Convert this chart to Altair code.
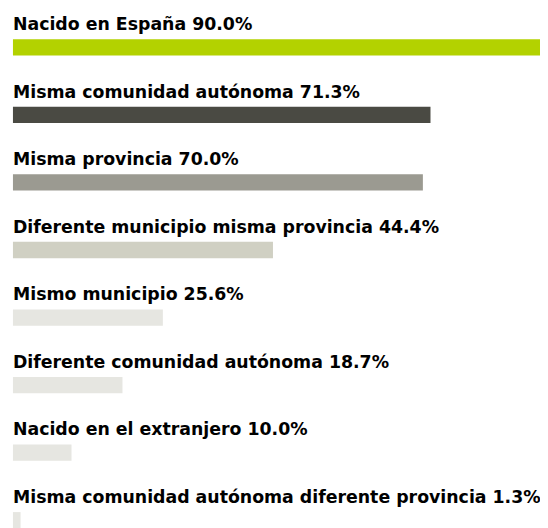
import altair as alt
import pandas as pd

categories = [
    "Nacido en España",
    "Misma comunidad autónoma",
    "Misma provincia",
    "Diferente municipio misma provincia",
    "Mismo municipio",
    "Diferente comunidad autónoma",
    "Nacido en el extranjero",
    "Misma comunidad autónoma diferente provincia",
]
values = [90.0, 71.3, 70.0, 44.4, 25.6, 18.7, 10.0, 1.3]
colors = ["#b3d200", "#4a4a43", "#9b9a91", "#d0d0c3", "#e6e6e1", "#e6e6e1", "#e6e6e1", "#e6e6e1"]

df = pd.DataFrame({
    "cat": categories,
    "val": values,
})
df["label"] = [f"{c} {v:.1f}%" for c, v in zip(categories, values)]

y_enc = alt.Y("cat:N", sort=categories, axis=None,
              scale=alt.Scale(paddingInner=0, paddingOuter=0))

bars = alt.Chart(df).mark_bar(height=16.5).encode(
    x=alt.X("val:Q", axis=None, scale=alt.Scale(domain=[0, 90], nice=False, zero=True)),
    y=y_enc,
    color=alt.Color("cat:N", scale=alt.Scale(domain=categories, range=colors), legend=None),
)

labels = alt.Chart(df).mark_text(
    align="left", baseline="alphabetic", dy=-17.5,
    font="DejaVu Sans", fontWeight="bold", fontSize=17.5, color="#000000",
).encode(
    x=alt.value(0),
    y=y_enc,
    text="label:N",
)

chart = alt.layer(bars, labels).properties(
    width=532,
    height=alt.Step(68.2),
    padding={"left": 5, "top": 3, "right": 0, "bottom": 0},
    autosize=alt.AutoSizeParams(type="none"),
).configure_view(stroke=None)

chart.save("out.html", embed_options={"renderer": "svg", "actions": False})
